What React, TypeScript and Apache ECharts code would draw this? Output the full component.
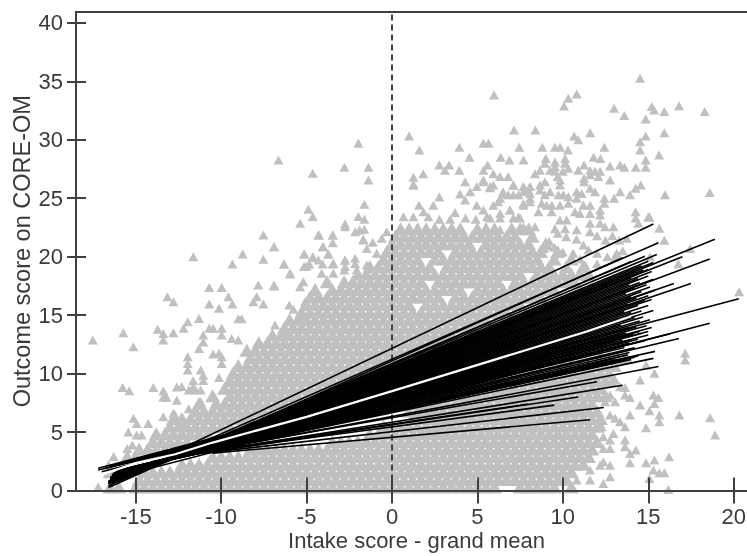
import React, { useEffect, useRef } from "react";
import * as echarts from "echarts";

const xTicks = [-15, -10, -5, 0, 5, 10, 15, 20];
const yTicks = [0, 5, 10, 15, 20, 25, 30, 35, 40];
const xTitle = "Intake score - grand mean";
const yTitle = "Outcome score on CORE-OM";

// Gray cloud, read row by row: outcome level and intake positions on it
const cloudLevels = [0.3, 0.95, 1.6, 2.25, 2.9, 3.55, 4.2, 4.85, 5.5, 6.15, 6.8, 7.45, 8.1, 8.75, 9.4, 10.05, 10.7, 11.35, 12, 12.65, 13.3, 13.95, 14.6, 15.25, 15.9, 16.55, 17.2, 17.85, 18.5, 19.15, 19.8, 20.45, 21.1, 21.75, 22.4];
const cloudRows = [
[-16.5,-16,-15,-14.5,-14,-13.5,-13,-12.5,-12,-11.5,-11,-10.5,-10,-9.5,-9,-8.5,-8,-7.5,-7,-6.5,-6,-5.5,-5,-4.5,-4,-3.5,-3,-2.5,-2,-1.5,-1,-.5,0,.5,1,1.5,2,2.5,3,3.5,4,4.5,5,5.5,6,7.5,8,8.5,9,9.5,10.5],
[-14.8,-14.3,-13.8,-13.3,-12.8,-12.3,-11.8,-11.3,-10.8,-10.3,-9.8,-9.3,-8.8,-8.3,-7.8,-7.3,-6.8,-6.3,-5.8,-5.3,-4.8,-4.3,-3.8,-3.3,-2.8,-2.3,-1.8,-1.3,-.8,-.3,.2,.7,1.2,1.7,2.2,2.7,3.2,3.7,4.2,4.7,5.2,5.7,6.2,6.7,7.2,7.7,8.2,8.7,9.2,9.7,10.2],
[-16.5,-14.5,-14,-13.5,-13,-12.5,-12,-11.5,-11,-10.5,-10,-9.5,-9,-8.5,-8,-7.5,-7,-6.5,-6,-5.5,-5,-4.5,-4,-3.5,-3,-2.5,-2,-1.5,-1,-.5,0,.5,1,1.5,2,2.5,3,3.5,4,4.5,5,5.5,6,6.5,7,7.5,8,8.5,9,9.5,10,10.5],
[-12.3,-11.8,-11.3,-10.8,-10.3,-9.8,-9.3,-8.8,-8.3,-7.8,-7.3,-6.8,-6.3,-5.8,-5.3,-4.8,-4.3,-3.8,-3.3,-2.8,-2.3,-1.8,-1.3,-.8,-.3,.2,.7,1.2,1.7,2.2,2.7,3.2,3.7,4.2,4.7,5.2,5.7,6.2,6.7,7.2,7.7,8.2,8.7,9.2,9.7,10.2,10.7,11.2],
[-15.5,-15,-10.5,-10,-9.5,-9,-8.5,-8,-7.5,-7,-6.5,-6,-5.5,-5,-4.5,-4,-3.5,-3,-2.5,-2,-1.5,-1,-.5,0,.5,1,1.5,2,2.5,3,3.5,4,4.5,5,5.5,6,6.5,7,7.5,8,8.5,9,9.5,10,10.5,11,11.5],
[-14.8,-14.3,-13.8,-13.3,-8.3,-7.8,-7.3,-6.8,-6.3,-5.8,-5.3,-4.8,-4.3,-3.8,-3.3,-2.8,-2.3,-1.8,-1.3,-.8,-.3,.2,.7,1.2,1.7,2.2,2.7,3.2,3.7,4.2,4.7,5.2,5.7,6.2,6.7,7.2,7.7,8.2,8.7,9.2,9.7,10.2,10.7,11.2,11.7],
[-14,-13.5,-13,-12.5,-12,-3.5,-3,-2.5,-2,-1.5,-1,-.5,0,.5,1,1.5,2,2.5,3,3.5,4,4.5,5,5.5,6,6.5,7,7.5,8,8.5,9,9.5,10,10.5,11,11.5,12],
[-13.8,-13.3,-12.8,-12.3,-11.8,-11.3,-10.8,-1.3,-.8,-.3,.2,.7,1.2,1.7,2.2,2.7,3.2,3.7,4.2,4.7,5.2,5.7,6.2,6.7,7.2,7.7,8.2,8.7,9.2,9.7,10.2,10.7,11.2,11.7],
[-13,-12.5,-12,-11.5,-11,-10.5,-10,-9.5,-.5,0,.5,1,1.5,2,2.5,3,3.5,4,4.5,5,5.5,6,6.5,7,7.5,8,8.5,9,9.5,10,10.5,11,11.5,12],
[-12.8,-12.3,-11.8,-11.3,-10.8,-10.3,-9.8,-9.3,-8.8,-8.3,1.2,1.7,2.2,2.7,3.2,3.7,4.2,4.7,5.2,5.7,6.2,6.7,7.2,7.7,8.2,8.7,9.2,9.7,10.2,10.7,11.2,11.7,12.2],
[-11.5,-11,-10.5,-10,-9.5,-9,-8.5,-8,-7.5,-7,1,1.5,2,2.5,3,3.5,4,4.5,5,5.5,6,6.5,7,7.5,8,8.5,9,9.5,10,10.5,11,11.5,12],
[-11.3,-10.3,-9.8,-9.3,-8.8,-8.3,-7.8,-7.3,-6.8,-6.3,-5.8,1.2,1.7,2.2,2.7,3.2,3.7,4.2,4.7,5.2,5.7,6.2,6.7,7.2,7.7,8.2,8.7,9.2,9.7,10.2,10.7,11.2,11.7],
[-10.5,-9.5,-9,-8.5,-8,-7.5,-7,-6.5,-6,-5.5,-5,-4.5,2.5,3,3.5,4,4.5,5,5.5,6,6.5,7,7.5,8,8.5,9,9.5,10,10.5,11,11.5,12,12.5],
[-9.8,-9.3,-8.8,-8.3,-7.8,-7.3,-6.8,-6.3,-5.8,-5.3,-4.8,-4.3,-3.8,4.7,5.2,5.7,6.2,6.7,7.2,7.7,8.2,8.7,9.2,9.7,10.2,10.7,11.2,11.7,12.2],
[-9.5,-9,-8.5,-8,-7.5,-7,-6.5,-6,-5.5,-5,-4.5,-4,-3.5,-3,-2.5,6,6.5,7,7.5,8,8.5,9,9.5,10,10.5,11,11.5,12,12.5],
[-9.3,-8.8,-8.3,-7.8,-7.3,-6.8,-6.3,-5.8,-5.3,-4.8,-4.3,-3.8,-3.3,-2.8,-2.3,-1.8,8.2,8.7,9.2,9.7,10.2,10.7,11.2,11.7,12.2,12.7],
[-9,-8.5,-8,-7.5,-7,-6.5,-6,-5.5,-5,-4.5,-4,-3.5,-3,-2.5,-2,-1.5,-1,-.5,10,10.5,11,11.5,12,12.5,13],
[-8.3,-7.8,-7.3,-6.8,-6.3,-5.8,-5.3,-4.8,-4.3,-3.8,-3.3,-2.8,-2.3,-1.8,-1.3,-.8,-.3,.2,.7,12.2,12.7,13.2,13.7],
[-8.5,-8,-7.5,-7,-6.5,-6,-5.5,-5,-4.5,-4,-3.5,-3,-2.5,-2,-1.5,-1,-.5,0,.5,1,1.5],
[-7.8,-7.3,-6.8,-6.3,-5.8,-5.3,-4.8,-4.3,-3.8,-3.3,-2.8,-2.3,-1.8,-1.3,-.8,-.3,.2,.7,1.2,1.7,2.2,2.7],
[-7,-6.5,-6,-5.5,-5,-4.5,-4,-3.5,-3,-2.5,-2,-1.5,-1,-.5,0,.5,1,1.5,2,2.5,3,3.5],
[-6.3,-5.8,-5.3,-4.8,-4.3,-3.8,-3.3,-2.8,-2.3,-1.8,-1.3,-.8,-.3,.2,.7,1.2,1.7,2.2,2.7,3.2,3.7,4.2,4.7],
[-6,-5.5,-5,-4.5,-4,-3.5,-3,-2.5,-2,-1.5,-1,-.5,0,.5,1,1.5,2,2.5,3,3.5,4,4.5,5,5.5],
[-5.3,-4.8,-4.3,-3.8,-3.3,-2.8,-2.3,-1.8,-1.3,-.8,-.3,.2,.7,1.2,1.7,2.2,2.7,3.2,3.7,4.2,4.7,5.2,5.7,6.2,6.7],
[-5,-4.5,-4,-3.5,-3,-2.5,-2,-1.5,-1,-.5,0,.5,1,2,2.5,3,3.5,4,4.5,5,5.5,6,6.5,7,7.5],
[-4.8,-4.3,-3.8,-3.3,-2.8,-2.3,-1.8,-1.3,-.8,-.3,.2,.7,1.2,1.7,2.2,2.7,3.7,4.2,4.7,5.2,5.7,6.2,6.7,7.2,7.7,8.2,8.7],
[-4.5,-3.5,-3,-2.5,-2,-1.5,-1,-.5,0,.5,1,1.5,2,2.5,3,3.5,4,5,5.5,6,6.5,7,7.5,8,8.5,9,9.5],
[-3.8,-2.8,-2.3,-1.8,-1.3,-.8,-.3,.2,.7,1.2,1.7,2.7,3.2,3.7,4.2,4.7,5.2,5.7,6.2,7.2,7.7,8.2,8.7,9.2,9.7,10.2,10.7],
[-2,-1.5,-1,-.5,0,.5,1,1.5,2,2.5,3,3.5,4,4.5,5,5.5,6,6.5,7,7.5,8.5,9,9.5,10,10.5,11,11.5],
[-1.3,-.8,-.3,.2,.7,1.2,1.7,2.2,3.2,3.7,4.2,4.7,5.2,5.7,6.2,6.7,7.2,7.7,8.2,8.7,9.2,10.2,11.2],
[-.5,0,.5,1,1.5,2.5,3,3.5,4,4.5,5,5.5,6,6.5,7,7.5,8,8.5,9.5,10.5],
[-.3,.2,.7,1.2,1.7,2.2,2.7,3.7,4.2,4.7,5.2,5.7,6.2,6.7,7.2,7.7,8.2,8.7,9.7],
[0,.5,1,1.5,2,2.5,3,3.5,4,4.5,5.5,6,6.5,7,7.5,8,9],
[.2,.7,1.2,1.7,2.2,2.7,3.2,3.7,4.2,4.7,5.2,5.7,6.2,6.7,7.2,8.2],
[.5,1,1.5,2,2.5,3,3.5,4,5,5.5,6,7,7.5,8],
];

// Individually readable triangles outside the solid cloud
const loosePoints = [
[14.52,35.26],[5.97,33.84],[10.81,33.92],[10.32,33.55],[10.07,32.9],[13,32.7],[13.6,32.07],[15.2,32.84],[15.34,32.55],[15.94,32.41],[16.8,32.92],[18.3,32.41],[14.85,31.78],[7.14,30.84],[8.39,30.84],[1,30.33],[11.6,30.6],[10.66,30.33],[10.9,30],[15.94,30.6],[14.85,30.33],[14.52,29.84],[14.52,29.13],[1.6,29.13],[3.94,29.36],[5.35,29.7],[5.65,29.7],[7.45,29.36],[8.8,29.36],[9.54,29.36],[9.84,29.36],[10.3,29.13],[12.43,29.36],[15.63,28.7],[4.53,28.5],[6.36,28.5],[6.87,28.28],[7.7,28.28],[9,28.4],[10.13,28.4],[11.8,28.5],[12.2,28.4],[14.85,28.28],[2.77,27.85],[3.34,27.85],[3.1,27.4],[3.94,27.4],[5.6,27.85],[13.35,27.85],[13.6,27.65],[12.76,27.75],[14.27,27.65],[14.85,27.65],[1.25,26.8],[1.25,26.1],[1.83,27.1],
[8.95,28],[9.54,28.1],[9.54,27.7],[9.54,27.3],[10.13,28],[10.32,27.56],[10,27.3],[9.7,26.85],[8.66,27.4],[8.37,27.1],[9.25,27.4],[10.9,27.4],[11.24,27.85],[11.59,27.4],[11.88,27.3],[12.18,27.3],[11.59,27],[12.08,26.85],[11.24,26.7],[11.24,26.4],[12.76,26.55],[5.93,27.1],[5.35,27.4],[5.35,26.55],[6.32,26.85],[6.8,26.85],[5.93,26.13],[5.74,25.9],[7.1,26.13],[7.69,26],[8.08,26],[7.69,25.56],[7.98,25.7],[8.66,26.13],[8.66,25.7],[8.95,26.4],[9.83,26.55],[9.83,26.13],[6.5,25.56],[6.8,25.3],[7.1,25.3],[7.4,25.3],[9.25,25.56],[8.95,25.3],[9.74,25.3],[10.03,25.3],[10.32,25.14],[10.81,25.56],[11.1,25.4],[10.81,25],[11.59,25.85],[11.88,25.56],[13.35,25.56],[13,25],[13.93,25.3],[14.56,26.13],[14.26,25.85],[12.43,25],[12.43,24.57],[6.22,24.7],[5.93,24.4],[7.69,24.4],[8.08,25],[8.08,24.7],[8.76,24.57],[9.05,24.4],[9.35,24.4],[9.83,24.4],[10.32,24.57],[11.2,24.4],[11.6,24.4],[12.18,24],[11.59,23.7],[12.18,23.57],[5.35,24],[5.74,23.3],[6.32,23.3],[6.9,24],[7.1,23.3],[7.5,23.3],[8.57,23.85],[9.35,23.85],[9.83,23.14],[10.22,23.14],[10.71,23.85],[11,23.7],[14.26,23.85],[14.26,23.3],[15,23.4],[14.42,22.86],[11.59,22.86],[12.18,22.86],[12.47,22.57],[12.96,22.57],[6.32,22.3],[7.1,22.3],[7.69,22.57],[8.37,22.57],[9.54,22.4],[10.13,22.4],[10.81,22.3],[11.59,22.14],[13.74,21.57],[13.15,20.3],[15.65,22.43],[15.98,25.3],[18.6,25.5],[15.94,21.4],[15.07,23.4],[15.1,20],[13.05,20],[17.45,20.7],[16.76,19.4],
[9.7,22],[10.2,21.7],[10.8,21.5],[11.2,21],[11.5,20.6],[12,21.8],[12.5,21.4],[12.9,21.8],[13.3,21.4],[9.5,20.8],[10,20.4],[10.6,20.3],[11,19.8],[12,20.3],[12.6,20],[13.5,20.5],[9.2,21.3],[8.9,20.7],[12,19.4],[11.3,19.3],
[1.58,24.4],[2.42,24.4],[2.77,25.1],[1.25,26.2],[.67,23.42],[1.25,23.42],[1.84,23.85],[2.13,23.42],[2.77,23.2],[3.69,23.77],[4.28,24.85],[3.98,25.36],[4.57,25.56],[4.96,26],[5.35,26.4],[4.28,26.4],[5.74,26],[6.33,25],[6.52,25.4],[7.11,26.1],[7.69,24.56],[8.08,25.4],[4.96,24.4],[5.55,23.42],[6.33,23.7],[6.91,24],[7.4,23.42],[3.4,23.2],[4.3,23.3],[4.9,23.2],
[-.31,22.14],[-.6,21.57],[-1.13,21.23],[-1.68,21.43],[-1.48,20.71],[-.9,20.29],[-2.16,19.86],[-2.75,19.72],[-3.43,19.43],[-3.72,20.23],[-4.02,20.86],[-4.27,21.85],[-3.47,21.85],[-3.47,21.2],[-4.64,19.94],[-5.13,20.23],[-5,19.2],[-4.31,19.72],[-4.12,18.58],[-3.43,18.58],[-2.79,18.86],[-2.07,18.86],[-1.48,19.29],[-5.19,17.86],[-5.97,18.52],[-6.32,19.37],[-6.9,20.86],[-6.9,17.49],[-5.38,17.43],[-6.01,15.87],[-5.77,15.5],[-5.09,16.15],[-5.38,14.93],[-6.85,14.16],[-6.36,13.3],
[-11.63,20],[-6.65,28.27],[-4.64,27.13],[-2.79,27.65],[-1.97,29.7],[-1.38,27.65],[-1.38,26.56],[-4.9,24.05],[-4.64,23.43],[-5.38,22.85],[-1.62,24.48],[-1.97,23.43],[-1.62,23.2],[-2.75,22.8],[-2.75,22.57],[-2.16,22.14],[-1.9,22.28],[-1.62,22.34],[-7.53,21.86],[-4.31,21.86],[-3.47,21.86],[-1.68,21.5],[-6.91,20.86],[-4.06,20.86],[-8.74,20.23],[-5.15,20.23],[-3.73,20.23],[-7.53,19.78],[-9.35,19.38],[-6.32,19.38],[-4.64,20],[-5.15,19.15],[-4.84,19.38],[-4.06,19.38],[-3.47,19.38],[-2.75,19.7],[-2.75,19.15],[-2.16,19.4],[-5.97,18.6],
[-17.52,12.87],[-15.73,13.5],[-15.14,12.3],[-15.77,8.82],[-15.38,8.53],[-13.97,8.82],[-13.39,8.53],[-13.39,8],[-13.2,7.96],[-13.15,16.57],[-12.8,16.15],[-13.72,13.8],[-13.39,13.44],[-13.39,12.87],[-12.8,13.5],[-12.2,13.87],[-11.96,14.44],[-11.3,14.72],[-10.7,17.37],[-9.97,17.37],[-10.7,15.95],[-10.13,15.58],[-9.58,16.57],[-9.35,15.95],[-7.83,17.57],[-6.91,17.57],[-7.92,16.57],[-8.12,16.15],[-7.53,15.95],[-9,14.7],[-8.8,14.7],[-10.7,13.87],[-10.47,13.87],[-9.97,13.87],[-9.97,13.3],[-11.05,13.3],[-11.05,12.7],[-11.3,12.15],[-9.39,13],[-9,12.87],[-10.47,11.67],[-10.13,11.73],[-9.97,11.44],[-9.97,10.87],[-11.96,11.44],[-11.96,10.87],[-11.96,10.3],[-11.2,10.3],[-11.05,9.85],[-11.05,9.4],[-11.64,9.4],[-11.64,8.9],[-12.31,8.9],[-12.6,8.85],[-11.9,8.6],[-11.2,8.6],[-11.5,8.6],[-10.13,9.67],[-9.58,9.3],[-13.39,6.3],[-12.7,6.45],[-12.31,6],[-12.2,5.74],[-15.14,6.17],[-14.95,5.74],[-15.44,5],[-14.95,4.74],[-14.66,4.74],[-14.27,5.74],[-12.6,7.73],[-12.8,6.6],[-11.9,7],[-11.2,7.6],[-16.3,2.9],[-16.6,2.2],[-17.2,.3],[-15.5,3.6],[-15.2,3.9],
[20.32,17],[17.16,11.73],[17.16,11.16],[14.52,9.45],[15.36,10.02],[14.87,10.73],[12.86,9.3],[13.06,9.45],[13.35,8.88],[13.64,8.82],[13.64,8.16],[13.93,7.96],[12.76,8.16],[13.06,7.59],[12.47,7.59],[15.3,8.16],[15.59,7.96],[15.36,7.45],[14.52,7.31],[15.07,6.82],[13.93,6.45],[15.65,6.45],[15.65,5.88],[16.82,6.45],[18.62,6.22],[18.91,4.74],[14.87,5.37],[12.76,6.45],[13.06,6.17],[13.35,5.88],[13.64,5.45],[12.28,5.45],[12.96,4.88],[12.37,4.6],[12.76,4.31],[13.64,4.31],[11.69,3.6],[12.37,3.6],[12.76,3.6],[13.64,3.74],[13.93,3.17],[14.27,3.46],[13.93,2.37],[12.37,2.46],[12.18,2.17],[12.76,2.17],[11.59,1.75],[11.59,.89],[10.81,.89],[12.37,.6],[12.76,1.18],[14.87,2.37],[15.36,2.6],[16.22,2.89],[15.3,1.75],[15.65,1.52],[15.94,1.52],[15.07,1.03],[16.18,.09],
];

// Fitted lines as [start x, start y, end x, end y]
const fitLines = [
[-13.3,2.9,15.3,22.8],[-13.5,2.6,15.6,21.2],[-16.4,.6,18.9,21.5],[-16.3,.8,18.6,19.8],[-16,1,17,20],[-16,1.1,17.5,17.7],[-16,1.2,16.5,17.7],[-17.2,1.9,20.3,16.4],[-16.5,1,18.6,14.3],
[-10.5,3.2,11.6,6.05],[-11,3.2,12.4,7.1],[-12,3.1,9.5,7.3],[-12,3,10.9,8],[-13,2.9,8,7.4],[-13,2.8,13.5,9],[-13,2.9,12,9.3],[-14,2.5,15.6,10.6],[-14,2.4,15.3,11.3],[-14.5,2.2,15.4,11.9],[-15,2,14,11.2],[-15,2,13.8,11.6],[-15.5,1.8,16.8,13],[-15,1.9,16.3,13.4],
[-15.2,1.95,13,10.9],[-15,2,13.6,11.1],[-14.5,2.2,14.2,11.4],[-15.3,1.9,14.4,11.5],[-15,2.1,13.2,11.2],[-15.5,1.8,12.9,11.1],[-14.8,2.1,13,11.3],[-15.2,2,13.9,11.8],
[-17.2,1.75,13,12.2],[-16.8,1.9,14,12.9],[-16.5,2.1,13,12.8],[-16,2.2,14.5,13.6],[-15.5,2.5,13.5,13.4],[-15,2.6,14,13.9],[-17,1.6,15,13.6],
[-16.6,.25,13.5,19.9],[-16.6,.4,14,19.6],
[-16,1.75,14.2,12.2],[-15.5,1.91,13.6,12.24],[-16.2,1.65,14.8,12.81],[-15,2.07,13.9,12.62],[-16,1.69,14.4,12.94],[-15.8,1.75,15,13.3],[-16.1,1.62,13.5,12.87],[-15.6,1.8,14.6,13.43],[-16,1.63,14.1,13.37],[-16.3,1.5,15.2,13.94],[-15.4,1.84,13.7,13.48],[-16,1.59,14.9,14.1],[-16.2,1.49,14.3,13.99],[-15.7,1.68,13.8,13.92],[-16.4,1.37,15.1,14.6],[-16,1.53,14.5,14.49],[-15.5,1.73,13.4,14.15],[-16.1,1.45,14.7,14.85],[-16.3,1.35,14.2,14.77],[-15.8,1.55,15.3,15.39],[-16,1.45,13.9,14.9],[-16.4,1.25,14.6,15.36],[-15.6,1.6,14,15.22],[-16.2,1.31,15,15.82],[-16,1.39,13.6,15.3],[-16.5,1.14,14.4,15.82],[-15.9,1.41,15.2,16.34],[-16.3,1.2,14.8,16.28],[-16,1.33,13.8,15.93],[-16.5,1.07,15,16.66],[-15.7,1.45,14.3,16.45],[-16.2,1.18,15.4,17.14],[-16.4,1.07,14,16.57],[-16,1.26,14.6,17.01],[-16.5,.98,15.1,17.41],[-16.1,1.17,13.7,16.82],[-16.3,1.05,14.9,17.59],[-16.5,.93,14.2,17.35],[-16.2,1.07,15.3,18.08],[-16.4,.95,14.5,17.79],[-16.6,.82,13.9,17.6],[-16.3,.97,15,18.34],[-16.5,.84,14.4,18.14],[-16.2,.99,15.2,18.73],[-16.6,.75,14,18.19],[-16.4,.85,15,18.9],[-16.5,.77,14.7,18.87],[-16.6,.69,14.2,18.71],[-16.4,.79,15.3,19.5],[-16.6,.66,14.6,19.22],[-16.5,.7,15,19.6],[-16.6,.6,15.5,20.19],[-16.6,.57,14.8,20.04],
];

// Average line drawn in white on top of the fan
const meanLine = [[-17.5,1.1],[-15,2.35],[-12.7,3.1],[-10.5,4.1],[-5,6.3],[0,8.5],[11.4,13.6],[14,14.9]];

const AXIS = "#404040";
const TEXT = "#3a3a3a";
const GRAY = "#c0c0c0";

export default function App() {
  const ref = useRef<HTMLDivElement>(null);
  useEffect(() => {
    const chart = echarts.init(ref.current!, undefined, { renderer: "svg" });
    const cloud: number[][] = [];
    cloudRows.forEach((xs, i) => xs.forEach((x) => cloud.push([x, cloudLevels[i]])));
    const tri = {
      type: "scatter", symbol: "triangle", silent: true,
      itemStyle: { color: GRAY, opacity: 1 }, xAxisIndex: 0, yAxisIndex: 0,
    };
    const line = { type: "line", showSymbol: false, silent: true, xAxisIndex: 0, yAxisIndex: 0 };
    const xBase = { type: "value", min: -18.5, max: 20.78, splitLine: { show: false }, z: 10 };
    const yBase = { type: "value", min: 0, max: 40.93, splitLine: { show: false }, z: 10 };
    const axisLine = { show: true, onZero: false, lineStyle: { color: AXIS, width: 2 } };
    const hiddenLine = { show: false, onZero: false };
    chart.setOption({
      animation: false,
      grid: { left: 76, right: 0, top: 12, bottom: 65.5, containLabel: false, outerBoundsMode: "none" },
      xAxis: [
        { ...xBase, position: "bottom", axisLine, name: xTitle, nameLocation: "middle", nameGap: 39, nameMoveOverlap: false,
          nameTextStyle: { color: TEXT, fontFamily: "Liberation Sans", fontSize: 22, padding: [0, 0, 0, 10] },
          axisTick: { show: true, length: 13, customValues: xTicks, lineStyle: { color: AXIS, width: 2 } },
          axisLabel: { show: true, margin: 15, customValues: xTicks, color: TEXT, fontFamily: "Liberation Sans", fontSize: 22, showMinLabel: true, showMaxLabel: true } },
        { ...xBase, position: "bottom", axisLine: hiddenLine,
          axisTick: { show: true, inside: true, length: 13, customValues: xTicks, lineStyle: { color: AXIS, width: 2 } },
          axisLabel: { show: false } },
        { ...xBase, position: "top", axisLine, axisTick: { show: false }, axisLabel: { show: false } },
      ],
      yAxis: [
        { ...yBase, position: "left", axisLine, name: yTitle, nameLocation: "middle", nameGap: 42, nameMoveOverlap: false,
          nameTextStyle: { color: TEXT, fontFamily: "Liberation Sans", fontSize: 23.5 },
          axisTick: { show: true, length: 9, customValues: yTicks, lineStyle: { color: AXIS, width: 2 } },
          axisLabel: { show: true, margin: 13, customValues: yTicks, color: TEXT, fontFamily: "Liberation Sans", fontSize: 22 } },
        { ...yBase, position: "left", axisLine: hiddenLine,
          axisTick: { show: true, inside: true, length: 10, customValues: yTicks, lineStyle: { color: AXIS, width: 2 } },
          axisLabel: { show: false } },
      ],
      series: [
        { ...tri, symbolSize: [15, 13], data: cloud },
        { ...tri, symbolSize: [10, 9], data: loosePoints },
        { ...line, data: [[0, 0], [0, 40.93]], lineStyle: { color: AXIS, width: 2, type: [6, 4] } },
        ...fitLines.map((l) => ({
          ...line,
          data: [[l[0], l[1]], [l[2], l[3]]],
          lineStyle: { color: "#000000", width: 1.6 },
        })),
        { ...line, data: meanLine, lineStyle: { color: "#ffffff", width: 2.2 } },
      ],
    });
    return () => chart.dispose();
  }, []);
  return <div ref={ref} style={{ position: "fixed", left: 0, top: 0, width: 747, height: 556 }} />;
}
